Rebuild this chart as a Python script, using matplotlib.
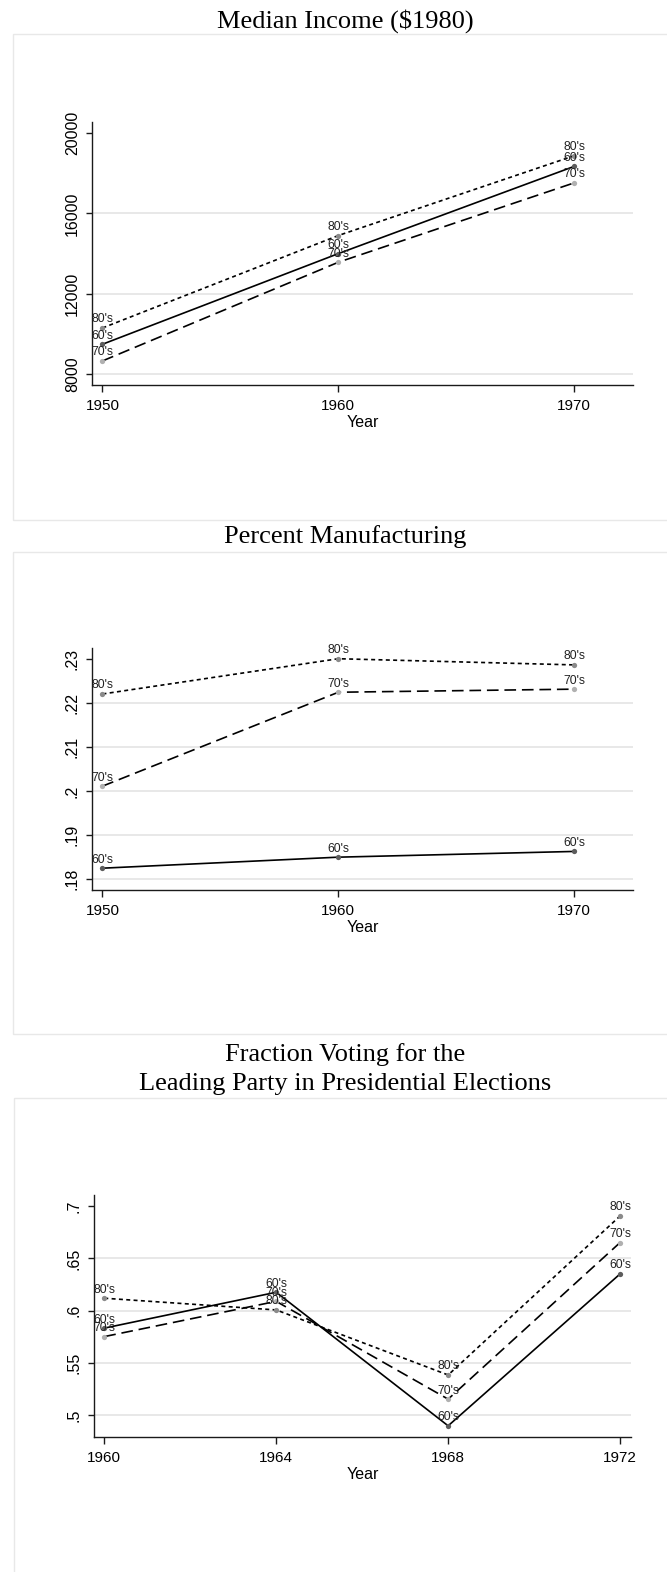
import matplotlib
matplotlib.use("Agg")
import matplotlib.pyplot as plt
from matplotlib.patches import Rectangle

# decade groups
groups = ["60's", "70's", "80's"]

# panel 1: median income
years_inc = [1950, 1960, 1970]
inc_60 = [9490, 14000, 18340]
inc_70 = [8660, 13570, 17520]
inc_80 = [10300, 14900, 18870]
inc_ticks = [8000, 12000, 16000, 20000]
inc_ticklabels = ["8000", "12000", "16000", "20000"]

# panel 2: percent manufacturing
years_man = [1950, 1960, 1970]
man_60 = [0.1825, 0.1850, 0.1863]
man_70 = [0.2011, 0.2224, 0.2231]
man_80 = [0.2220, 0.2300, 0.2286]
man_ticks = [0.18, 0.19, 0.20, 0.21, 0.22, 0.23]
man_ticklabels = [".18", ".19", ".2", ".21", ".22", ".23"]

# panel 3: fraction voting for leading party
years_vote = [1960, 1964, 1968, 1972]
vote_60 = [0.5834, 0.6177, 0.4900, 0.6352]
vote_70 = [0.5753, 0.6090, 0.5155, 0.6652]
vote_80 = [0.6120, 0.6008, 0.5386, 0.6906]
vote_ticks = [0.50, 0.55, 0.60, 0.65, 0.70]
vote_ticklabels = [".5", ".55", ".6", ".65", ".7"]

line_styles = {"60's": "-", "70's": (0, (7, 3.5)), "80's": (0, (2.4, 2.0))}
marker_cols = {"60's": "#5c5c5c", "70's": "#b0b0b0", "80's": "#8a8a8a"}

sans = "Liberation Sans"
serif = "Liberation Serif"

fig = plt.figure(figsize=(6.67, 15.72), dpi=100)
W, H = 667.0, 1572.0


def fx(px):
    return px / W


def fy(py):
    return 1 - py / H


# light panel frames
for top, bot, left in [(34, 520, 12.8), (551.5, 1034, 12.8), (1098, 1600, 14)]:
    fig.patches.append(Rectangle((fx(left), fy(bot)), 1.2, fy(top) - fy(bot),
                                 transform=fig.transFigure, fill=False,
                                 edgecolor="#e8e8e8", lw=1.0, zorder=0))


def panel(rect_px, years, series, ticks, ticklabels, xlim, ylim):
    l, r, t, b = rect_px
    ax = fig.add_axes([fx(l), fy(b), fx(r) - fx(l), fy(t) - fy(b)])
    ax.set_facecolor("none")
    for s in ["top", "right"]:
        ax.spines[s].set_visible(False)
    for s in ["left", "bottom"]:
        ax.spines[s].set_linewidth(1.0)
        ax.spines[s].set_color("#1a1a1a")
    for tv in ticks[:-1]:
        ax.axhline(tv, color="#e6e6e6", lw=1.3, zorder=0)
    for g, vals in zip(groups, series):
        ax.plot(years, vals, color="black", lw=1.2, ls=line_styles[g], zorder=2)
        ax.plot(years, vals, "o", color=marker_cols[g], ms=3.8, mec="none", zorder=3)
        for x, y in zip(years, vals):
            ax.annotate(g, (x, y), xytext=(0, 4), textcoords="offset points",
                        ha="center", va="baseline", fontsize=8.8,
                        family=sans, color="#222222", zorder=4)
    ax.set_xlim(*xlim)
    ax.set_ylim(*ylim)
    ax.set_xticks(years)
    ax.set_xticklabels([str(y) for y in years], family=sans, fontsize=11)
    ax.set_yticks(ticks)
    ax.set_yticklabels(ticklabels, family=sans, fontsize=11.5, rotation=90, va="center")
    ax.tick_params(axis="x", length=5, width=1, pad=5, color="#1a1a1a")
    ax.tick_params(axis="y", length=4, width=1, pad=5, color="#1a1a1a")
    ax.set_xlabel("Year", family=sans, fontsize=11.5, labelpad=1.5)
    return ax


panel((92.3, 632.5, 122, 385), years_inc, [inc_60, inc_70, inc_80],
      inc_ticks, inc_ticklabels, (1949.57, 1972.47), (7463, 20547))
panel((92.3, 632.5, 647.7, 889.8), years_man, [man_60, man_70, man_80],
      man_ticks, man_ticklabels, (1949.57, 1972.47), (0.1776, 0.2325))
panel((94.4, 630.8, 1195.2, 1436.9), years_vote, [vote_60, vote_70, vote_80],
      vote_ticks, vote_ticklabels, (1959.77, 1972.25), (0.4794, 0.7105))

fig.text(fx(345), fy(21.5), "Median Income ($1980)", family=serif, fontsize=19,
         ha="center", va="center")
fig.text(fx(345), fy(537), "Percent Manufacturing", family=serif, fontsize=19,
         ha="center", va="center")
fig.text(fx(345.5), fy(1054.5), "Fraction Voting for the",
         family=serif, fontsize=19, ha="center", va="center")
fig.text(fx(345.5), fy(1084), "Leading Party in Presidential Elections",
         family=serif, fontsize=19, ha="center", va="center")

fig.savefig("out.png", dpi=100)
